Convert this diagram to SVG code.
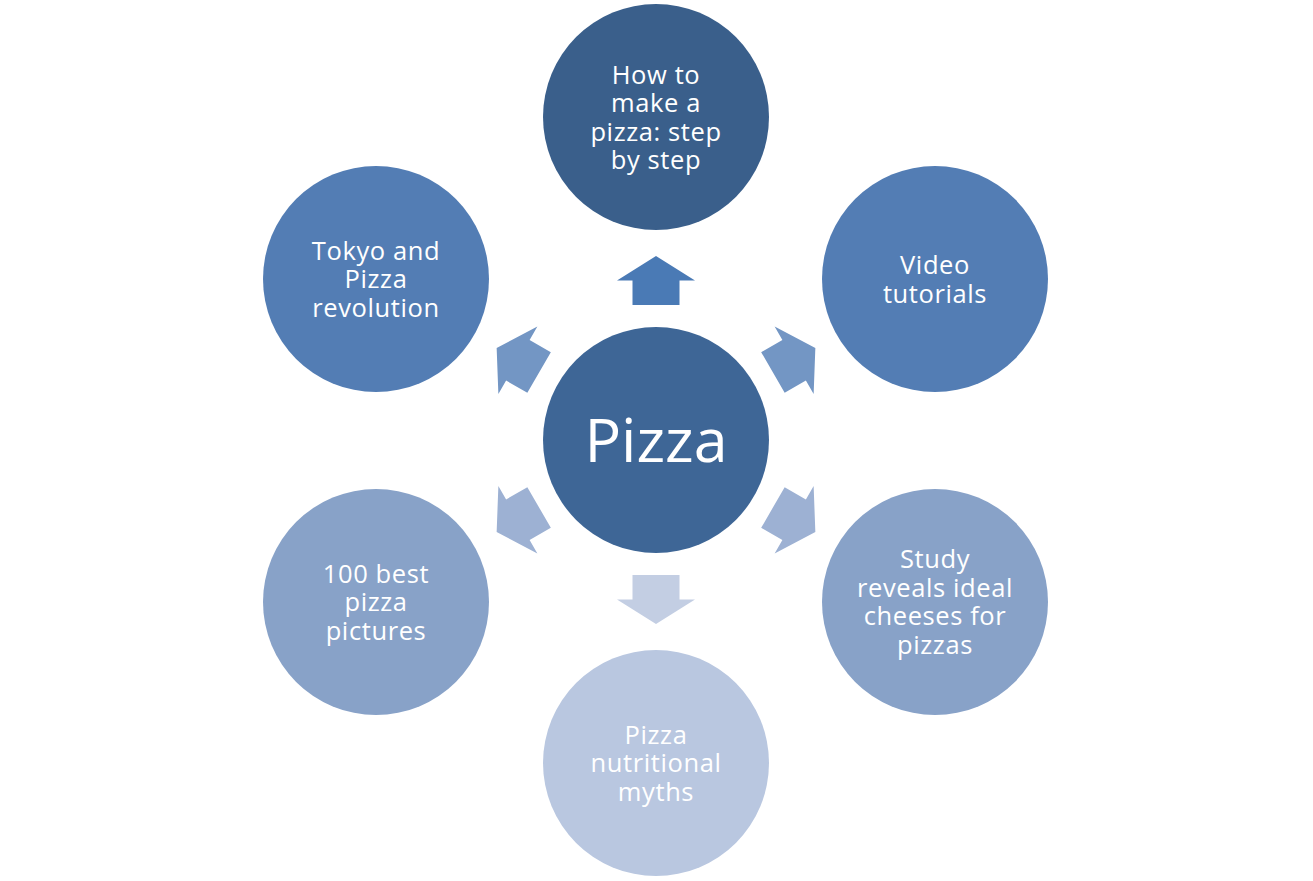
<svg xmlns="http://www.w3.org/2000/svg" width="1313" height="881" viewBox="0 0 1313 881">
<defs>
<style>
text{font-family:"Open Sans","Noto Sans","Liberation Sans",sans-serif;fill:#FFFFFF;text-anchor:middle}
.t{font-size:25.5px;letter-spacing:0.6px}
.c{font-size:61px}
</style>
<path id="arr" d="M-23.5,-135 L-23.5,-159.5 L-39,-159.5 L0,-184 L39,-159.5 L23.5,-159.5 L23.5,-135 Z"/>
</defs>
<rect width="1313" height="881" fill="#FFFFFF"/>
<g id="connectors">
<use href="#arr" transform="translate(656,440)" fill="#4A7AB5"/>
<use href="#arr" transform="translate(656,440) rotate(60)" fill="#7396C4"/>
<use href="#arr" transform="translate(656,440) rotate(-60)" fill="#7396C4"/>
<use href="#arr" transform="translate(656,440) rotate(120)" fill="#9DB1D3"/>
<use href="#arr" transform="translate(656,440) rotate(-120)" fill="#9DB1D3"/>
<use href="#arr" transform="translate(656,440) rotate(180)" fill="#C3CEE3"/>
</g>
<g id="center">
<circle cx="656" cy="440" r="113" fill="#3E6696"/>
<text class="c" x="656" y="462">Pizza</text>
</g>
<g id="n-top">
<circle cx="656" cy="117" r="113" fill="#3A5F8B"/>
<text class="t" x="656" y="83.5">How to</text>
<text class="t" x="656" y="112">make a</text>
<text class="t" x="656" y="140.5">pizza: step</text>
<text class="t" x="656" y="169">by step</text>
</g>
<g id="n-upper-right">
<circle cx="935" cy="279" r="113" fill="#537DB4"/>
<text class="t" x="935" y="274">Video</text>
<text class="t" x="935" y="302.5">tutorials</text>
</g>
<g id="n-lower-right">
<circle cx="935" cy="602" r="113" fill="#88A2C8"/>
<text class="t" x="935" y="568">Study</text>
<text class="t" x="935" y="596.5">reveals ideal</text>
<text class="t" x="935" y="625">cheeses for</text>
<text class="t" x="935" y="653.5">pizzas</text>
</g>
<g id="n-bottom">
<circle cx="656" cy="763" r="113" fill="#B9C7E0"/>
<text class="t" x="656" y="743.5">Pizza</text>
<text class="t" x="656" y="772">nutritional</text>
<text class="t" x="656" y="800.5">myths</text>
</g>
<g id="n-lower-left">
<circle cx="376" cy="602" r="113" fill="#88A2C8"/>
<text class="t" x="376" y="582.5">100 best</text>
<text class="t" x="376" y="611">pizza</text>
<text class="t" x="376" y="639.5">pictures</text>
</g>
<g id="n-upper-left">
<circle cx="376" cy="279" r="113" fill="#537DB4"/>
<text class="t" x="376" y="259.5">Tokyo and</text>
<text class="t" x="376" y="288">Pizza</text>
<text class="t" x="376" y="316.5">revolution</text>
</g>
</svg>
